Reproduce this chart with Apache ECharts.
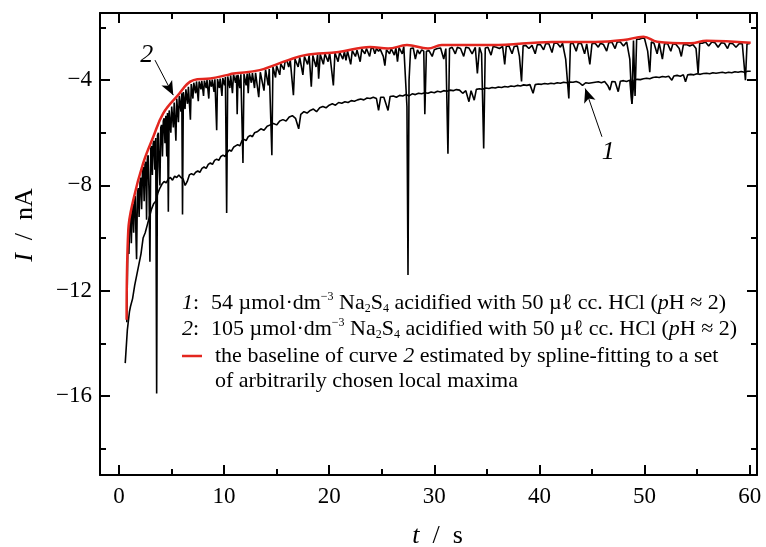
<!DOCTYPE html>
<html><head><meta charset="utf-8">
<script src="https://cdn.jsdelivr.net/npm/echarts@6/dist/echarts.min.js"></script>
<style>html,body{margin:0;padding:0;background:#fff}#c{width:766px;height:547px}</style>
</head><body><div id="c"></div>
<script>
// ---- data ----
const xMajorTicks = [0,10,20,30,40,50,60];
const xMinorTicks = [5,15,25,35,45,55];
const yMajorTicks = [-16,-12,-8,-4];
const yMinorTicks = [-18,-14,-10,-6,-2];

const curve1 = [[0.6,-14.75],[0.8,-13.5],[1.0,-12.8],[1.1,-12.6],[1.3,-12.3],[1.5,-11.8],[1.7,-11.4],[1.9,-11.0],[2.1,-10.6],[2.3,-10.0],[2.5,-9.8],[2.7,-9.5],[2.9,-9.2],[3.1,-8.9],[3.3,-8.7],[3.5,-8.6],[3.7,-8.3],[3.9,-8.1],[4.1,-7.95],[4.3,-7.85],[4.5,-7.9],[4.7,-7.75],[4.9,-7.7],[5.1,-7.8],[5.3,-7.65],[5.5,-7.7],[5.7,-7.6],[5.9,-7.7],[6.1,-7.75],[6.3,-8.0],[6.5,-7.85],[6.7,-7.6],[6.9,-7.55],[7.1,-7.6],[7.3,-7.5],[7.5,-7.45],[7.7,-7.5],[7.9,-7.35],[8.1,-7.3],[8.3,-7.35],[8.5,-7.2],[8.7,-7.15],[8.9,-7.2],[9.1,-7.05],[9.3,-7.0],[9.5,-7.05],[9.7,-6.9],[9.9,-6.85],[10.1,-6.9],[10.3,-6.75],[10.5,-6.65],[10.7,-6.7],[10.9,-6.55],[11.1,-6.5],[11.3,-6.45],[11.5,-6.5],[11.7,-6.3],[11.9,-6.25],[12.1,-6.3],[12.3,-6.15],[12.5,-6.1],[12.7,-6.15],[12.9,-6.0],[13.2,-5.95],[13.5,-5.85],[13.8,-5.9],[14.1,-5.75],[14.4,-5.7],[14.7,-5.65],[15.0,-5.7],[15.3,-5.55],[15.6,-5.5],[15.9,-5.55],[16.2,-5.4],[16.5,-5.35],[16.8,-5.45],[17.1,-5.85],[17.3,-5.3],[17.6,-5.2],[17.9,-5.25],[18.2,-5.15],[18.5,-5.1],[18.8,-5.2],[19.1,-5.05],[19.4,-5.0],[19.7,-5.05],[20.0,-4.95],[20.3,-4.9],[20.6,-4.95],[20.9,-4.85],[21.2,-4.88],[21.5,-4.82],[21.8,-4.85],[22.1,-4.78],[22.4,-4.8],[22.7,-4.75],[23.0,-4.72],[23.3,-4.75],[23.6,-4.68],[23.9,-4.7],[24.2,-4.65],[24.5,-4.7],[24.7,-5.15],[24.9,-4.65],[25.2,-4.65],[25.4,-4.9],[25.6,-5.15],[25.8,-4.62],[26.1,-4.6],[26.4,-4.65],[26.7,-4.58],[27.0,-4.6],[27.3,-4.55],[27.6,-4.6],[27.9,-4.52],[28.2,-4.55],[28.5,-4.5],[28.8,-4.52],[29.1,-4.48],[29.4,-4.5],[29.7,-4.45],[30.0,-4.48],[30.3,-4.42],[30.6,-4.45],[30.9,-4.4],[31.2,-4.42],[31.5,-4.38],[31.8,-4.4],[32.1,-4.36],[32.4,-4.38],[32.7,-4.5],[33.0,-4.4],[33.3,-4.82],[33.5,-4.4],[33.8,-4.76],[34.0,-4.35],[34.3,-4.33],[34.6,-4.35],[34.9,-4.3],[35.2,-4.32],[35.5,-4.28],[35.8,-4.3],[36.1,-4.26],[36.4,-4.28],[36.7,-4.24],[37.0,-4.26],[37.3,-4.22],[37.6,-4.24],[37.9,-4.2],[38.2,-4.22],[38.5,-4.18],[38.8,-4.2],[39.1,-4.17],[39.4,-4.5],[39.6,-4.17],[39.9,-4.15],[40.2,-4.16],[40.5,-4.13],[40.8,-4.15],[41.1,-4.12],[41.4,-4.14],[41.7,-4.1],[42.0,-4.12],[42.3,-4.08],[42.6,-4.1],[42.9,-4.07],[43.2,-4.08],[43.5,-4.05],[43.8,-4.1],[44.1,-4.2],[44.4,-4.1],[44.7,-4.12],[45.0,-4.1],[45.3,-4.08],[45.6,-4.06],[45.9,-4.1],[46.2,-4.05],[46.5,-4.2],[46.7,-4.38],[46.9,-4.05],[47.2,-4.06],[47.5,-4.44],[47.7,-4.04],[48.0,-4.02],[48.3,-4.05],[48.6,-4.0],[48.8,-4.9],[49.0,-4.0],[49.3,-3.97],[49.6,-3.98],[49.9,-3.95],[50.2,-3.93],[50.5,-3.95],[50.8,-3.9],[51.1,-3.88],[51.4,-3.9],[51.7,-3.86],[52.0,-3.88],[52.3,-3.85],[52.6,-4.0],[52.8,-3.84],[53.1,-3.82],[53.4,-3.85],[53.7,-3.8],[53.9,-4.06],[54.1,-3.8],[54.4,-3.78],[54.7,-3.8],[55.0,-3.76],[55.3,-3.78],[55.6,-3.75],[55.9,-3.74],[56.2,-3.76],[56.5,-3.72],[56.8,-3.74],[57.1,-3.72],[57.4,-3.7],[57.7,-3.73],[58.0,-3.7],[58.3,-3.72],[58.6,-3.68],[58.9,-3.7],[59.2,-3.67],[59.5,-3.7],[59.8,-3.66],[60.1,-3.66]];

const curve2 = [[0.75,-13.2],[0.82,-11.0],[0.88,-9.8],[0.95,-10.6],[1.02,-9.3],[1.1,-9.1],[1.18,-10.2],[1.25,-8.9],[1.32,-8.7],[1.4,-9.8],[1.48,-8.5],[1.55,-8.4],[1.62,-9.9],[1.68,-10.8],[1.76,-8.3],[1.84,-8.1],[1.92,-9.2],[2.0,-7.9],[2.08,-7.7],[2.16,-8.9],[2.24,-7.5],[2.32,-7.3],[2.4,-8.6],[2.48,-7.2],[2.56,-7.1],[2.63,-9.3],[2.7,-7.0],[2.78,-6.85],[2.86,-8.2],[2.95,-10.9],[3.03,-6.6],[3.1,-6.5],[3.18,-7.6],[3.26,-6.4],[3.34,-6.3],[3.42,-7.4],[3.5,-6.2],[3.59,-15.9],[3.67,-6.1],[3.75,-6.0],[3.83,-7.3],[3.9,-8.0],[3.98,-5.8],[4.06,-5.7],[4.14,-6.9],[4.22,-5.55],[4.3,-5.45],[4.38,-6.4],[4.46,-5.35],[4.55,-6.9],[4.62,-5.25],[4.7,-9.0],[4.78,-5.15],[4.86,-5.1],[4.94,-6.0],[5.02,-5.0],[5.1,-4.95],[5.18,-5.8],[5.26,-4.85],[5.34,-4.8],[5.42,-6.3],[5.5,-4.7],[5.58,-4.68],[5.66,-5.6],[5.74,-4.6],[5.82,-4.55],[5.9,-5.2],[5.98,-4.5],[6.05,-9.1],[6.13,-4.45],[6.21,-4.4],[6.29,-5.1],[6.37,-4.35],[6.45,-4.3],[6.53,-4.9],[6.61,-4.25],[6.7,-4.2],[6.8,-5.5],[6.88,-4.15],[6.96,-4.12],[7.04,-4.7],[7.12,-4.1],[7.2,-4.08],[7.3,-4.5],[7.38,-4.05],[7.46,-4.05],[7.55,-4.8],[7.63,-4.05],[7.72,-4.04],[7.8,-4.35],[7.88,-4.03],[7.96,-4.02],[8.05,-4.6],[8.13,-4.02],[8.22,-4.01],[8.3,-4.3],[8.38,-4.0],[8.46,-4.0],[8.55,-4.7],[8.63,-4.0],[8.72,-4.0],[8.8,-4.25],[8.88,-3.98],[8.96,-3.98],[9.05,-4.45],[9.13,-3.97],[9.22,-3.97],[9.3,-5.9],[9.38,-3.96],[9.46,-3.95],[9.55,-4.3],[9.63,-3.94],[9.72,-3.93],[9.8,-4.6],[9.88,-3.92],[9.96,-3.9],[10.05,-4.2],[10.13,-3.88],[10.25,-9.05],[10.35,-3.86],[10.45,-3.84],[10.55,-4.3],[10.63,-3.82],[10.72,-3.8],[10.8,-4.5],[10.9,-3.78],[11.0,-3.8],[11.1,-4.1],[11.18,-3.82],[11.25,-5.3],[11.33,-3.8],[11.42,-3.8],[11.5,-4.3],[11.6,-3.78],[11.7,-3.78],[11.8,-7.15],[11.9,-3.77],[12.0,-3.76],[12.1,-4.2],[12.2,-3.75],[12.3,-4.5],[12.4,-3.74],[12.5,-3.74],[12.6,-4.1],[12.7,-3.73],[12.8,-3.72],[12.9,-4.3],[13.0,-3.72],[13.15,-3.7],[13.3,-4.65],[13.45,-3.7],[13.6,-3.65],[13.8,-4.4],[13.95,-3.6],[14.1,-3.6],[14.2,-4.2],[14.3,-3.58],[14.45,-3.56],[14.55,-6.85],[14.65,-3.5],[14.8,-3.48],[14.9,-3.9],[15.0,-3.45],[15.15,-3.42],[15.3,-3.8],[15.4,-3.38],[15.55,-3.36],[15.7,-3.6],[15.8,-3.3],[16.0,-3.28],[16.15,-3.5],[16.3,-3.25],[16.45,-3.22],[16.6,-4.57],[16.75,-3.2],[16.9,-3.18],[17.05,-3.5],[17.2,-3.14],[17.35,-3.12],[17.5,-3.8],[17.65,-3.1],[17.8,-3.08],[17.95,-3.4],[18.1,-3.06],[18.3,-4.25],[18.45,-3.06],[18.6,-3.05],[18.75,-3.5],[18.9,-3.03],[19.0,-3.95],[19.15,-3.02],[19.3,-3.0],[19.45,-3.4],[19.6,-3.0],[19.75,-2.98],[19.9,-3.3],[20.05,-2.97],[20.2,-2.97],[20.4,-4.2],[20.55,-2.96],[20.7,-2.95],[20.85,-3.3],[21.0,-2.94],[21.15,-2.93],[21.3,-3.2],[21.45,-2.92],[21.6,-3.25],[21.75,-2.9],[21.9,-2.9],[22.05,-3.4],[22.2,-2.88],[22.35,-2.87],[22.5,-3.1],[22.65,-2.86],[22.8,-2.85],[22.95,-3.3],[23.1,-2.83],[23.25,-2.82],[23.4,-3.0],[23.55,-2.8],[23.7,-2.79],[23.85,-3.1],[24.0,-2.78],[24.2,-2.8],[24.35,-3.0],[24.5,-2.8],[24.7,-2.9],[24.85,-2.82],[25.0,-2.83],[25.15,-3.1],[25.3,-3.45],[25.45,-2.85],[25.6,-2.84],[25.75,-3.0],[25.9,-2.8],[26.05,-2.8],[26.2,-3.05],[26.35,-2.78],[26.5,-3.3],[26.65,-2.76],[26.8,-2.75],[26.95,-3.0],[27.1,-2.72],[27.25,-2.75],[27.4,-5.0],[27.5,-11.4],[27.6,-4.0],[27.75,-2.8],[28.0,-2.78],[28.2,-3.2],[28.4,-2.85],[28.6,-3.0],[28.8,-2.85],[29.0,-2.9],[29.1,-5.3],[29.25,-2.9],[29.5,-2.88],[29.8,-3.1],[30.0,-2.85],[30.3,-2.8],[30.6,-2.78],[30.9,-3.2],[31.1,-2.8],[31.3,-6.8],[31.45,-2.8],[31.7,-2.75],[32.0,-3.0],[32.2,-2.75],[32.5,-2.8],[32.8,-3.1],[33.0,-2.75],[33.3,-2.78],[33.6,-3.0],[33.9,-2.75],[34.1,-3.75],[34.3,-2.75],[34.5,-3.0],[34.7,-6.6],[34.85,-2.78],[35.1,-2.75],[35.4,-3.05],[35.6,-2.72],[35.9,-2.75],[36.2,-2.8],[36.5,-2.72],[36.7,-3.4],[36.85,-2.72],[37.1,-2.7],[37.4,-3.0],[37.6,-2.72],[37.9,-2.7],[38.1,-3.1],[38.3,-4.05],[38.45,-2.7],[38.7,-2.68],[39.0,-2.8],[39.3,-2.68],[39.6,-3.0],[39.8,-2.65],[40.1,-2.65],[40.4,-2.85],[40.6,-2.62],[40.9,-2.62],[41.2,-2.95],[41.4,-2.6],[41.7,-2.6],[42.0,-2.75],[42.2,-2.6],[42.5,-3.2],[42.8,-4.7],[42.95,-2.62],[43.2,-2.6],[43.5,-2.9],[43.7,-2.6],[44.0,-2.62],[44.3,-3.0],[44.5,-2.62],[44.8,-3.4],[45.0,-2.62],[45.3,-2.6],[45.6,-2.75],[45.8,-2.6],[46.1,-2.65],[46.4,-2.9],[46.6,-2.58],[46.9,-2.56],[47.2,-2.8],[47.4,-2.55],[47.7,-2.55],[48.0,-2.7],[48.3,-2.55],[48.6,-3.2],[48.8,-4.9],[48.95,-2.5],[49.1,-4.6],[49.25,-2.45],[49.5,-2.45],[49.8,-2.4],[50.0,-2.42],[50.3,-2.9],[50.5,-3.7],[50.65,-2.55],[50.9,-2.6],[51.2,-3.0],[51.4,-2.6],[51.7,-3.2],[51.9,-2.62],[52.2,-2.62],[52.5,-2.9],[52.7,-2.62],[53.0,-2.65],[53.3,-2.8],[53.5,-3.1],[53.7,-2.65],[54.0,-2.65],[54.3,-2.7],[54.6,-2.65],[54.9,-2.8],[55.1,-3.75],[55.25,-2.6],[55.5,-2.6],[55.8,-2.55],[56.1,-2.7],[56.4,-2.55],[56.7,-2.58],[57.0,-2.75],[57.3,-2.58],[57.6,-2.6],[57.9,-2.8],[58.1,-2.6],[58.4,-2.62],[58.7,-2.75],[59.0,-2.62],[59.3,-2.62],[59.6,-4.0],[59.75,-2.62],[60.0,-2.62]];

const baseline2 = [[0.73,-13.1],[0.89,-9.7],[1.36,-8.56],[2.3,-7.16],[3.27,-6.15],[4.2,-5.27],[5.5,-4.63],[7.1,-4.0],[8.7,-3.94],[10.25,-3.81],[10.9,-3.75],[13.4,-3.62],[16.1,-3.24],[17.7,-3.05],[20.9,-2.93],[23.9,-2.74],[25.6,-2.80],[27.4,-2.67],[29.4,-2.80],[30.7,-2.67],[35.5,-2.67],[41.2,-2.55],[45.3,-2.55],[48.0,-2.48],[49.9,-2.35],[51.2,-2.54],[54.4,-2.6],[55.9,-2.5],[60.1,-2.58]];

// annotation anchors (data coordinates)
const arrow2 = [[3.43,-3.24],[5.17,-4.57]];
const label2 = [2.64,-3.05];
const arrow1 = [[45.95,-6.15],[44.36,-4.32]];
const label1 = [46.55,-6.73];

const X_MIN = -1.8, X_MAX = 60.7, Y_MIN = -19.0, Y_MAX = -1.45;

// ---- chart ----
const FONT = 'Liberation Serif';
const chart = echarts.init(document.getElementById('c'), null, {renderer:'canvas'});
const fmt = v => (v < 0 ? '\u2212' + Math.abs(v) : String(v));

function xAx(pos, ticks, len, line, labels, extra) {
  return Object.assign({
    type:'value', position:pos, min:X_MIN, max:X_MAX, gridIndex:0,
    splitLine:{show:false},
    axisLine:{show:line, onZero:false, lineStyle:{color:'#000', width:2}},
    axisTick:{show:true, inside:true, length:len, customValues:ticks, lineStyle:{color:'#000', width:2}},
    axisLabel:labels ? {show:true, customValues:labels, formatter:fmt, color:'#000', fontFamily:FONT, fontSize:23, margin:10} : {show:false}
  }, extra || {});
}
function yAx(pos, ticks, len, line, labels, extra) {
  return Object.assign({
    type:'value', position:pos, min:Y_MIN, max:Y_MAX, gridIndex:0,
    splitLine:{show:false},
    axisLine:{show:line, onZero:false, lineStyle:{color:'#000', width:2}},
    axisTick:{show:true, inside:true, length:len, customValues:ticks, lineStyle:{color:'#000', width:2}},
    axisLabel:labels ? {show:true, customValues:labels, formatter:fmt, color:'#000', fontFamily:FONT, fontSize:23, margin:8} : {show:false}
  }, extra || {});
}

const annLabel = txt => ({show:true, position:'inside', formatter:txt, fontFamily:FONT, fontStyle:'italic', fontSize:26, color:'#000'});

const LF = 22;
const legendRich = {
  i:{fontFamily:FONT, fontStyle:'italic', fontSize:LF, lineHeight:24},
  sup:{fontFamily:FONT, fontSize:12, verticalAlign:'top', lineHeight:24},
  sub:{fontFamily:FONT, fontSize:12, verticalAlign:'bottom', lineHeight:24}
};

const option = {
  animation:false,
  backgroundColor:'#fff',
  grid:{left:100, right:9, top:13, bottom:72, containLabel:false, outerBoundsMode:'none'},
  xAxis:[
    xAx('bottom', xMajorTicks, 10, true, xMajorTicks, {
      name:'{i|t}  /  s', nameLocation:'middle', nameGap:48,
      nameTextStyle:{fontFamily:FONT, fontSize:26, color:'#000', padding:[0,0,0,18], rich:{i:{fontFamily:FONT, fontStyle:'italic', fontSize:26, color:'#000'}}}
    }),
    xAx('bottom', xMinorTicks, 6, false, null),
    xAx('top', xMajorTicks, 10, true, null),
    xAx('top', xMinorTicks, 6, false, null)
  ],
  yAxis:[
    yAx('left', yMajorTicks, 10, true, yMajorTicks, {
      name:'{i|I}  /  nA', nameLocation:'middle', nameGap:62,
      nameTextStyle:{fontFamily:FONT, fontSize:26, color:'#000', padding:[0,0,0,38], rich:{i:{fontFamily:FONT, fontStyle:'italic', fontSize:26, color:'#000'}}}
    }),
    yAx('left', yMinorTicks, 6, false, null),
    yAx('right', yMajorTicks, 10, true, null),
    yAx('right', yMinorTicks, 6, false, null)
  ],
  series:[
    {type:'line', name:'1', data:curve1, showSymbol:false, symbol:'none', lineStyle:{color:'#000', width:1.6}, z:2,
     markLine:{silent:true, symbol:['none','arrow'], symbolSize:[9,14], lineStyle:{color:'#000', width:1, type:'solid'}, label:{show:false},
       data:[[{coord:arrow1[0]},{coord:arrow1[1]}]]},
     markPoint:{silent:true, symbol:'circle', symbolSize:2, itemStyle:{color:'rgba(0,0,0,0)'}, data:[{coord:label1, label:annLabel('1')}]}
    },
    {type:'line', name:'2', data:curve2, showSymbol:false, symbol:'none', lineStyle:{color:'#000', width:1.6}, z:3,
     markLine:{silent:true, symbol:['none','arrow'], symbolSize:[9,14], lineStyle:{color:'#000', width:1, type:'solid'}, label:{show:false},
       data:[[{coord:arrow2[0]},{coord:arrow2[1]}]]},
     markPoint:{silent:true, symbol:'circle', symbolSize:2, itemStyle:{color:'rgba(0,0,0,0)'}, data:[{coord:label2, label:annLabel('2')}]}
    },
    {type:'line', name:'baseline', data:baseline2, smooth:0.4, showSymbol:false, symbol:'none', lineStyle:{color:'#e3261f', width:2.5}, z:4}
  ],
  graphic:[
    {type:'text', x:182, y:291, silent:true, style:{text:'{i|1}:', fontFamily:FONT, fontSize:LF, lineHeight:24, fill:'#000', rich:legendRich}},
    {type:'text', x:211, y:291, silent:true, style:{text:'54 µmol·dm{sup|−3} Na{sub|2}S{sub|4} acidified with 50 µℓ cc. HCl ({i|p}H ≈ 2)', fontFamily:FONT, fontSize:LF, lineHeight:24, fill:'#000', rich:legendRich}},
    {type:'text', x:182, y:317, silent:true, style:{text:'{i|2}:', fontFamily:FONT, fontSize:LF, lineHeight:24, fill:'#000', rich:legendRich}},
    {type:'text', x:211, y:317, silent:true, style:{text:'105 µmol·dm{sup|−3} Na{sub|2}S{sub|4} acidified with 50 µℓ cc. HCl ({i|p}H ≈ 2)', fontFamily:FONT, fontSize:LF, lineHeight:24, fill:'#000', rich:legendRich}},
    {type:'line', silent:true, shape:{x1:182, y1:356, x2:202, y2:356}, style:{stroke:'#e3261f', lineWidth:2.5}},
    {type:'text', x:215, y:344, silent:true, style:{text:'the baseline of curve {i|2} estimated by spline-fitting to a set', fontFamily:FONT, fontSize:LF, lineHeight:24, fill:'#000', rich:legendRich}},
    {type:'text', x:215, y:369, silent:true, style:{text:'of arbitrarily chosen local maxima', fontFamily:FONT, fontSize:LF, lineHeight:24, fill:'#000'}}
  ]
};
chart.setOption(option);
</script></body></html>
